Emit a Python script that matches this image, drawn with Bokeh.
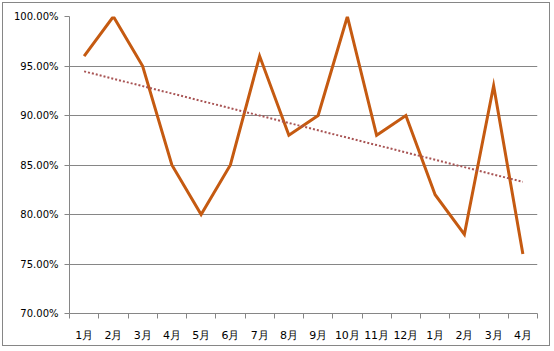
import numpy as np
from bokeh.plotting import figure
from bokeh.models import FixedTicker, NumeralTickFormatter, Range1d
from bokeh.embed import file_html
from bokeh.resources import INLINE

months = ["1月", "2月", "3月", "4月", "5月", "6月", "7月", "8月", "9月", "10月",
          "11月", "12月", "1月", "2月", "3月", "4月"]
rates = [0.96, 1.00, 0.95, 0.85, 0.80, 0.85, 0.96, 0.88, 0.90, 1.00,
         0.88, 0.90, 0.82, 0.78, 0.93, 0.76]
y_ticks = [0.70, 0.75, 0.80, 0.85, 0.90, 0.95, 1.00]

x = np.arange(1, len(months) + 1)
slope, intercept = np.polyfit(x, rates, 1)
trend = slope * x + intercept

p = figure(width=548, height=344,
           x_range=Range1d(0.5, len(months) + 0.5),
           y_range=Range1d(0.70, 1.00),
           output_backend="svg", toolbar_location=None,
           min_border_left=66, min_border_right=14,
           min_border_top=13, min_border_bottom=34,
           margin=(2, 0, 0, 2),
           styles={"border": "1px solid #868686"})
p.outline_line_color = None
p.background_fill_color = "white"
p.border_fill_color = "white"

p.xgrid.visible = False
p.ygrid.grid_line_color = "#868686"
p.ygrid.grid_line_width = 1

p.yaxis.ticker = FixedTicker(ticks=y_ticks)
p.yaxis.formatter = NumeralTickFormatter(format="0.00%")
p.yaxis.axis_line_color = "#868686"
p.yaxis.major_tick_line_color = "#868686"
p.yaxis.major_tick_out = 5
p.yaxis.major_tick_in = 0
p.yaxis.minor_tick_line_color = None
p.yaxis.major_label_standoff = 6
p.yaxis.major_label_text_font = "DejaVu Sans"
p.yaxis.major_label_text_font_size = "10px"
p.yaxis.major_label_text_color = "black"

p.xaxis.ticker = FixedTicker(ticks=[int(i) for i in x],
                             minor_ticks=[float(i) + 0.5 for i in range(0, len(months) + 1)])
p.xaxis.major_label_overrides = {int(i): m for i, m in zip(x, months)}
p.xaxis.axis_line_color = "#868686"
p.xaxis.major_tick_line_color = None
p.xaxis.major_tick_out = 0
p.xaxis.major_tick_in = 0
p.xaxis.minor_tick_line_color = "#868686"
p.xaxis.minor_tick_out = 5
p.xaxis.minor_tick_in = 0
p.xaxis.major_label_standoff = 10
p.xaxis.major_label_text_font = "DejaVu Sans"
p.xaxis.major_label_text_font_size = "11px"
p.xaxis.major_label_text_color = "black"

p.line(x, rates, line_color="#C55A11", line_width=3, line_join="miter")
p.line(x, trend, line_color="#A85454", line_width=2, line_dash="2 2")

open("out.html", "w").write(file_html(p, INLINE))
